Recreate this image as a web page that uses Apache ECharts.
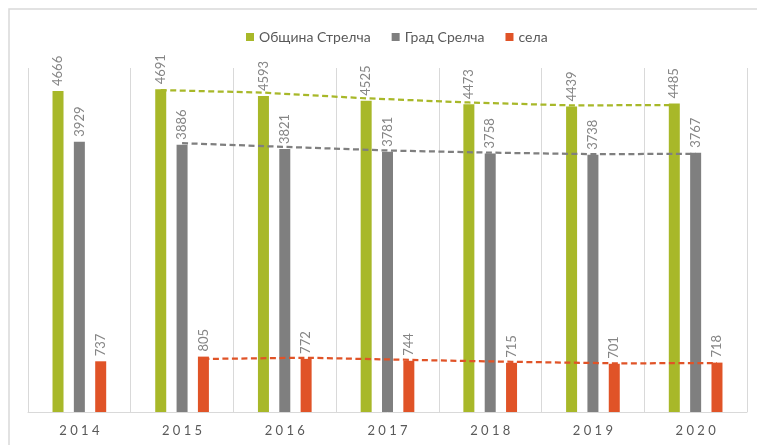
<!DOCTYPE html>
<html><head><meta charset="utf-8">
<script src="https://cdn.jsdelivr.net/npm/echarts/dist/echarts.min.js"></script>
<style>html,body{margin:0;padding:0;background:#fff}#c{width:757px;height:445px}</style>
</head><body><div id="c"></div>
<script>
// ---- data ----
const years = ['2014', '2015', '2016', '2017', '2018', '2019', '2020'];
const seriesNames = ['Община Стрелча', 'Град Срелча', 'села'];
const obshtina = [4666, 4691, 4593, 4525, 4473, 4439, 4485];
const grad = [3929, 3886, 3821, 3781, 3758, 3738, 3767];
const sela = [737, 805, 772, 744, 715, 701, 718];
// dashed trendlines (2-period moving average), as drawn 2015–2020
const trendYears = ['2015', '2016', '2017', '2018', '2019', '2020'];
const obshtinaTrend = [4678.5, 4642, 4559, 4499, 4456, 4462];
const gradTrend = [3907.5, 3853.5, 3801, 3769.5, 3748, 3752.5];
const selaTrend = [771, 788.5, 758, 729.5, 708, 709.5];

// ---- style ----
const COLORS = ['#a8b829', '#7f7f7f', '#e05327'];
const FONT = 'Lato, "Open Sans", sans-serif';
const BAR_W = 11;
const BAR_GAP = 0.94;

const chart = echarts.init(document.getElementById('c'), null, {renderer: 'canvas'});

function barSeries(name, data, color) {
  return {
    name: name, type: 'bar', data: data, barWidth: BAR_W, barGap: (BAR_GAP * 100) + '%',
    itemStyle: {color: color},
    label: {
      show: true, position: 'top', rotate: 90, align: 'left', verticalAlign: 'middle',
      distance: 5, color: '#858585', fontSize: 13, fontFamily: FONT
    },
    z: 2
  };
}

function trendSeries(name, vals, color, slot) {
  return {
    name: name, type: 'custom', silent: true, z: 5,
    data: trendYears.map((y, i) => [y, vals[i]]),
    encode: {x: 0, y: 1},
    renderItem: function (params, api) {
      if (params.dataIndex !== 0) return null;
      const step = BAR_W * (1 + BAR_GAP) * slot;
      const pts = trendYears.map((y, i) => {
        const p = api.coord([y, vals[i]]);
        return [p[0] + step, p[1]];
      });
      return {
        type: 'polyline', shape: {points: pts},
        style: {stroke: color, lineWidth: 2.25, fill: null, lineDash: [6, 3.5]}
      };
    }
  };
}

chart.setOption({
  animation: false,
  backgroundColor: '#fff',
  graphic: [{
    type: 'rect', shape: {x: 9, y: 9, width: 800, height: 500},
    style: {fill: null, stroke: '#d9d9d9', lineWidth: 1.5}, silent: true, z: -1
  }],
  legend: {
    data: seriesNames, top: 25, left: 241, itemWidth: 8, itemHeight: 8, itemGap: 21,
    icon: 'rect',
    textStyle: {color: '#595959', fontSize: 14, fontFamily: FONT}
  },
  grid: {left: 28, right: 10, top: 68, bottom: 33},
  xAxis: {
    type: 'category', data: years,
    axisLine: {lineStyle: {color: '#d9d9d9', width: 1}},
    axisTick: {show: false},
    splitLine: {show: true, lineStyle: {color: '#d9d9d9', width: 1}},
    axisLabel: {
      color: '#595959', fontSize: 13, fontFamily: FONT, margin: 12,
      formatter: v => v.split('').join(' ')
    }
  },
  yAxis: {
    type: 'value', min: 0, max: 5000, show: false,
    splitLine: {show: false}
  },
  series: [
    barSeries(seriesNames[0], obshtina, COLORS[0]),
    barSeries(seriesNames[1], grad, COLORS[1]),
    barSeries(seriesNames[2], sela, COLORS[2]),
    trendSeries('trend1', obshtinaTrend, COLORS[0], -1),
    trendSeries('trend2', gradTrend, COLORS[1], 0),
    trendSeries('trend3', selaTrend, COLORS[2], 1)
  ]
});
</script>
</body></html>
